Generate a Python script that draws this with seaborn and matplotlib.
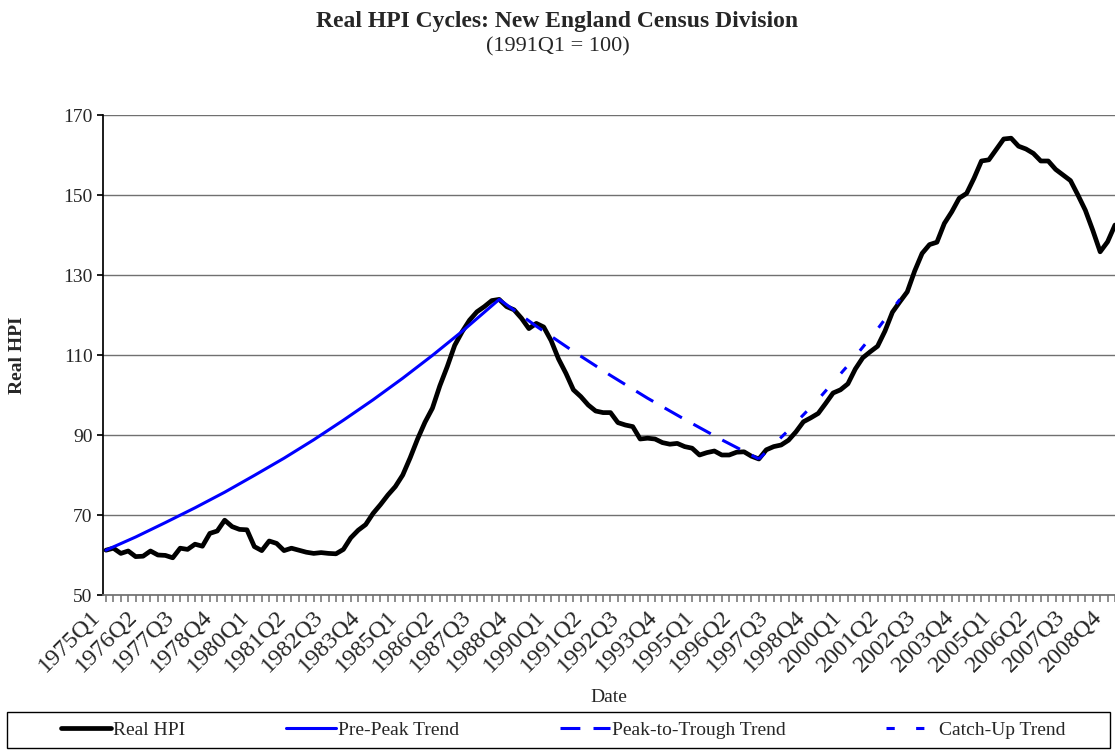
import seaborn as sns
import matplotlib.pyplot as plt
import matplotlib.transforms as mtransforms
import pandas as pd
from matplotlib.patches import Rectangle

# quarterly real HPI, New England, 1975Q1 onwards (1991Q1 = 100)
real_hpi = [
    61.2, 61.7, 60.4, 61.0, 59.6, 59.7, 61.0, 60.0, 59.9, 59.3,
    61.7, 61.4, 62.7, 62.2, 65.4, 66.0, 68.7, 67.1, 66.4, 66.3,
    62.1, 61.1, 63.5, 62.9, 61.1, 61.7, 61.2, 60.7, 60.4, 60.6,
    60.4, 60.3, 61.4, 64.3, 66.2, 67.6, 70.4, 72.6, 75.0, 77.1,
    80.0, 84.3, 89.0, 93.2, 96.7, 102.3, 107.1, 112.4, 115.8, 118.7,
    120.8, 122.1, 123.6, 123.9, 122.1, 121.3, 119.2, 116.6, 117.9, 117.0,
    113.6, 109.0, 105.4, 101.3, 99.6, 97.5, 96.0, 95.6, 95.6, 93.1,
    92.5, 92.1, 89.0, 89.2, 89.0, 88.1, 87.7, 87.9, 87.1, 86.7,
    85.0, 85.6, 86.0, 85.0, 85.0, 85.7, 85.8, 84.7, 84.0, 86.3,
    87.1, 87.5, 88.7, 90.8, 93.3, 94.3, 95.4, 97.9, 100.5, 101.3,
    102.8, 106.5, 109.3, 110.8, 112.2, 116.0, 120.7, 123.3, 125.8, 131.0,
    135.4, 137.6, 138.2, 142.9, 145.8, 149.2, 150.4, 154.2, 158.5, 158.8,
    161.4, 164.0, 164.2, 162.2, 161.5, 160.4, 158.5, 158.5, 156.4, 155.0,
    153.6, 150.0, 146.2, 141.2, 135.8, 138.3, 142.5,
]
quarters = [f"{1975 + k // 4}Q{k % 4 + 1}" for k in range(len(real_hpi))]

# trend lines, read at a few quarters (index into quarters)
pre_peak_idx = [0, 4, 8, 12, 16, 20, 24, 28, 32, 36, 40, 44, 48, 52, 53]
pre_peak_val = [61.2, 64.5, 68.1, 71.8, 75.7, 79.9, 84.2, 88.8, 93.7, 98.8,
                104.2, 109.9, 115.9, 122.3, 123.9]
peak_trough_idx = [53, 58, 63, 68, 73, 78, 83, 88]
peak_trough_val = [123.9, 117.2, 110.9, 104.9, 99.2, 93.9, 88.8, 84.0]
catch_up_idx = [88, 92, 96, 100, 104, 107]
catch_up_val = [84.0, 91.2, 98.9, 107.4, 116.5, 123.9]

hpi_df = pd.DataFrame({"q": range(len(real_hpi)), "hpi": real_hpi})
pre_df = pd.DataFrame({"q": pre_peak_idx, "v": pre_peak_val})
pt_df = pd.DataFrame({"q": peak_trough_idx, "v": peak_trough_val})
cu_df = pd.DataFrame({"q": catch_up_idx, "v": catch_up_val})

sns.set_theme(style="white")
plt.rcParams["font.family"] = ["Liberation Serif", "DejaVu Serif"]

fig = plt.figure(figsize=(11.15, 7.53), dpi=100)
ax = fig.add_axes([103 / 1115, 158 / 753, 1012 / 1115, 480 / 753])

sns.lineplot(data=hpi_df, x="q", y="hpi", ax=ax, color="black", lw=3.4,
             label="Real HPI", zorder=3)
sns.lineplot(data=pre_df, x="q", y="v", ax=ax, color="#0000ff", lw=2.2,
             label="Pre-Peak Trend", zorder=4)
sns.lineplot(data=pt_df, x="q", y="v", ax=ax, color="#0000ff", lw=2.2,
             linestyle=(0, (6.5, 4.3)), label="Peak-to-Trough Trend", zorder=4)
sns.lineplot(data=cu_df, x="q", y="v", ax=ax, color="#0000ff", lw=2.2,
             linestyle=(0, (2.7, 7.0)), label="Catch-Up Trend", zorder=4)

handles, labels = ax.get_legend_handles_labels()
ax.get_legend().remove()

ax.set_xlim(-0.4, 135.8)
ax.set_ylim(50, 170)
ax.set_yticks(range(50, 171, 20))
ax.set_xticks(range(len(quarters)))
ax.tick_params(axis="y", labelsize=14, length=4, color="black", direction="out", left=True)
ax.tick_params(axis="x", length=5, color="#808080", direction="out", bottom=True, pad=3)
ax.set_xticklabels([q if k % 5 == 0 else "" for k, q in enumerate(quarters)],
                   rotation=45, ha="right", va="center", rotation_mode="anchor",
                   fontsize=17.5)
# nudge rotated labels so their upper right end sits at the tick
shift = mtransforms.ScaledTranslation(-9 / 100, -7 / 100, fig.dpi_scale_trans)
for lab in ax.get_xticklabels():
    lab.set_transform(lab.get_transform() + shift)
ax.yaxis.grid(True, color="#707070", lw=1)
ax.set_axisbelow(True)
for s in ["top", "right"]:
    ax.spines[s].set_visible(False)
ax.spines["left"].set_color("black")
ax.spines["bottom"].set_color("#707070")
ax.set_xlabel("")
ax.set_ylabel("")

fig.text(0.5, 1 - 22 / 753, "Real HPI Cycles: New England Census Division",
         ha="center", va="center", fontsize=17, fontweight="bold")
fig.text(0.5, 1 - 47 / 753, "(1991Q1 = 100)", ha="center", va="center", fontsize=16)
fig.text(18 / 1115, 1 - 355 / 753, "Real HPI", rotation=90, ha="center", va="center",
         fontsize=14, fontweight="bold")
fig.text(609 / 1115, 1 - 697 / 753, "Date", ha="center", va="center", fontsize=14)

fig.legend(handles, labels, loc="center", ncol=4, mode="expand", frameon=False,
           bbox_to_anchor=(53 / 1115, 23 / 753 - 0.02, 1020 / 1115, 0.04),
           fontsize=14, handlelength=2.6, handletextpad=0.1, borderaxespad=0)
fig.patches.append(Rectangle((7 / 1115, 5 / 753), 1103 / 1115, 36 / 753,
                             transform=fig.transFigure, fill=False,
                             edgecolor="black", lw=1))

fig.savefig("out.png", dpi=100)
